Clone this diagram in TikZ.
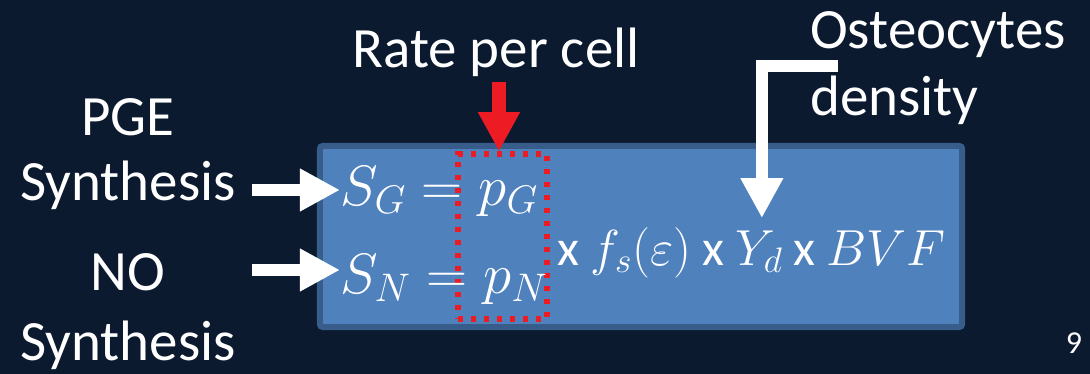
\RequirePackage{fix-cm}
\documentclass[tikz,border=0pt]{standalone}
\usepackage{fontspec}
\setmainfont{Carlito}
\usepackage{amsmath}
\usetikzlibrary{arrows.meta,positioning,calc}
\definecolor{slideBG}{RGB}{12,26,48}
\definecolor{eqFill}{RGB}{79,129,189}
\definecolor{eqLine}{RGB}{56,93,138}
\definecolor{rateRed}{RGB}{237,28,36}

\begin{document}
\begin{tikzpicture}[
  x=0.025cm, y=-0.025cm,
  font=\fontsize{40.5}{46}\selectfont,
  lbl/.style={text=white, inner sep=0pt, align=center},
  eq/.style={text=white, inner sep=0pt},
  prod/.style={eq, font=\fontsize{36}{42}\selectfont},
  warr/.style={-{Triangle[length=1cm,width=1cm]}, white, line width=0.28cm},
  rarr/.style={-{Triangle[length=0.98cm,width=0.98cm]}, rateRed, line width=0.35cm}
]
% slide background (fixes the page size)
\fill[slideBG] (0,0) rectangle (1090,374);
\useasboundingbox (0,0) rectangle (1090,374);

% equation box
\node[draw=eqLine, fill=eqFill, line width=0.15cm, rounded corners=2pt,
      minimum width=16.05cm, minimum height=4.525cm] (eqbox) at (641,236.5) {};

% red dotted frame round the rates
\node[draw=rateRed, line width=0.13cm, dash pattern=on 0.13cm off 0.195cm,
      minimum width=2.225cm, minimum height=4.125cm] (pbox) at (502.5,236.5) {};

% the two synthesis rows
\node[eq, anchor=base west] (sg) at (340,205) {$S_G = p_G$};
\node[eq, anchor=base west] (sn) at (340,293) {$S_N = p_N$};

% common factors
\node[prod, anchor=base west] (fs) at (557,265) {x $f_s(\varepsilon)$ x};
\node[prod, anchor=base west, inner xsep=0.25cm, inner ysep=0.3cm] (yd) at (fs.base east) {$Y_d$};
\node[prod, anchor=base west] (bvf) at (yd.base east) {x $BVF$};

% labels (base = last line)
\node[lbl, anchor=base] (pge) at (128,200) {PGE\\Synthesis};
\node[lbl, anchor=base] (no) at (128,360) {NO\\[3.5pt]Synthesis};
\node[lbl, anchor=base west, align=left] (osteo) at (810,115) {Osteocytes\\[1.5pt]density};
\node[lbl, anchor=base] (rate) at (496,68) {Rate per cell};
\node[lbl, anchor=base, font=\fontsize{22.7}{27}\selectfont] (pnum) at (1074,353) {9};

% arrows
\coordinate (pgeA) at (252,190);
\coordinate (noA) at (252,270);
\coordinate (rateA) at (499,82);
\coordinate (ostA) at (838,66);
\foreach \s/\t in {pgeA/sg,noA/sn}
  \draw[warr] (\s) -- (\s -| \t.west);
\draw[rarr] (rateA) -- (rateA |- pbox.north);
\draw[warr, line width=0.3cm] (ostA) -| ($(yd.north)+(3,0)$);

\end{tikzpicture}
\end{document}
